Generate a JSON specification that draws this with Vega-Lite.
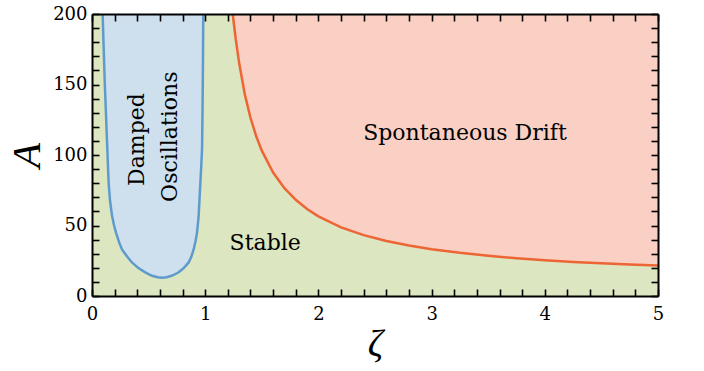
{
  "$schema": "https://vega.github.io/schema/vega-lite/v6.json",
  "width": 566,
  "height": 282,
  "autosize": {"type": "none"},
  "padding": {"left": 92, "top": 14, "right": 46, "bottom": 75},
  "config": {
    "view": {"stroke": null, "fill": "#dce6c1"},
    "axis": {
      "domainColor": "black", "domainWidth": 2, "tickColor": "black", "tickWidth": 1.6,
      "labelFont": "DejaVu Serif", "labelFontSize": 18, "labelColor": "black",
      "titleFont": "Liberation Serif", "titleFontStyle": "italic", "titleFontWeight": "normal",
      "titleColor": "black", "grid": false,
      "labelOverlap": false, "labelFlush": false
    }
  },
  "datasets": {
    "blue": [
      {"zeta": 0.094, "A": 200}, {"zeta": 0.103, "A": 176}, {"zeta": 0.112, "A": 153},
      {"zeta": 0.124, "A": 128}, {"zeta": 0.135, "A": 105}, {"zeta": 0.147, "A": 80},
      {"zeta": 0.16, "A": 67}, {"zeta": 0.177, "A": 57}, {"zeta": 0.195, "A": 50},
      {"zeta": 0.212, "A": 45}, {"zeta": 0.24, "A": 38}, {"zeta": 0.265, "A": 33},
      {"zeta": 0.31, "A": 28}, {"zeta": 0.353, "A": 23.8}, {"zeta": 0.41, "A": 19.8},
      {"zeta": 0.47, "A": 16.8}, {"zeta": 0.53, "A": 14.3}, {"zeta": 0.58, "A": 13.3},
      {"zeta": 0.618, "A": 13}, {"zeta": 0.66, "A": 13.3}, {"zeta": 0.71, "A": 14.5},
      {"zeta": 0.766, "A": 16.8}, {"zeta": 0.81, "A": 19.8}, {"zeta": 0.854, "A": 23.8},
      {"zeta": 0.878, "A": 28}, {"zeta": 0.898, "A": 33}, {"zeta": 0.915, "A": 39},
      {"zeta": 0.928, "A": 45}, {"zeta": 0.942, "A": 56.6}, {"zeta": 0.957, "A": 80},
      {"zeta": 0.965, "A": 92}, {"zeta": 0.972, "A": 104}, {"zeta": 0.976, "A": 128},
      {"zeta": 0.979, "A": 153}, {"zeta": 0.981, "A": 176}, {"zeta": 0.983, "A": 200}
    ],
    "red": [
      {"zeta": 1.243, "A": 200}, {"zeta": 1.27, "A": 182}, {"zeta": 1.3, "A": 165.2},
      {"zeta": 1.35, "A": 143}, {"zeta": 1.4, "A": 126.4}, {"zeta": 1.45, "A": 113.5},
      {"zeta": 1.5, "A": 103.1}, {"zeta": 1.6, "A": 87.6}, {"zeta": 1.7, "A": 76.5},
      {"zeta": 1.8, "A": 68.2}, {"zeta": 1.9, "A": 61.7}, {"zeta": 2.0, "A": 56.5},
      {"zeta": 2.2, "A": 48.7}, {"zeta": 2.4, "A": 43.2}, {"zeta": 2.6, "A": 39.0},
      {"zeta": 2.8, "A": 35.8}, {"zeta": 3.0, "A": 33.2}, {"zeta": 3.25, "A": 30.6},
      {"zeta": 3.5, "A": 28.5}, {"zeta": 3.75, "A": 26.8}, {"zeta": 4.0, "A": 25.4},
      {"zeta": 4.25, "A": 24.2}, {"zeta": 4.5, "A": 23.2}, {"zeta": 4.75, "A": 22.3},
      {"zeta": 5.0, "A": 21.55}
    ],
    "labels": [
      {"zeta": 0.40, "A": 111, "text": "Damped", "angle": 270},
      {"zeta": 0.69, "A": 113, "text": "Oscillations", "angle": 270},
      {"zeta": 1.53, "A": 37.6, "text": "Stable", "angle": 0},
      {"zeta": 3.295, "A": 115.6, "text": "Spontaneous Drift", "angle": 0}
    ]
  },
  "layer": [
    {
      "data": {"name": "red"},
      "mark": {"type": "area", "color": "#f9d0c3", "opacity": 1},
      "encoding": {
        "x": {"field": "zeta", "type": "quantitative", "scale": {"domain": [0, 5], "nice": false, "zero": false},
          "axis": {"orient": "bottom", "zindex": 2, "title": "ζ", "titlePadding": 2, "titleFontSize": 38, "format": ".0f",
            "values": [0,0.2,0.4,0.6,0.8,1,1.2,1.4,1.6,1.8,2,2.2,2.4,2.6,2.8,3,3.2,3.4,3.6,3.8,4,4.2,4.4,4.6,4.8,5],
            "labelExpr": "datum.value % 1 === 0 ? datum.label : ''",
            "tickSize": -7,
            "encode": {"ticks": {"update": {"y2": {"signal": "datum.value % 1 === 0 ? -7 : -4"}}}},
            "labelPadding": 16}},
        "y": {"field": "A", "type": "quantitative", "scale": {"domain": [0, 200], "nice": false, "zero": false},
          "axis": {"orient": "left", "zindex": 2, "title": "A", "titlePadding": 4, "titleFontSize": 41, "format": ".0f",
            "values": [0,10,20,30,40,50,60,70,80,90,100,110,120,130,140,150,160,170,180,190,200],
            "labelExpr": "datum.value % 50 === 0 ? datum.label : ''",
            "tickSize": -7,
            "encode": {"ticks": {"update": {"x2": {"signal": "datum.value % 50 === 0 ? 7 : 4"}}}},
            "labelPadding": 12}},
        "y2": {"datum": 200}
      }
    },
    {
      "data": {"name": "red"},
      "mark": {"type": "line", "color": "#ee6535", "strokeWidth": 2.5},
      "encoding": {
        "x": {"field": "zeta", "type": "quantitative",
          "axis": {"orient": "top", "zindex": 2, "title": null, "labels": false,
            "values": [0,0.2,0.4,0.6,0.8,1,1.2,1.4,1.6,1.8,2,2.2,2.4,2.6,2.8,3,3.2,3.4,3.6,3.8,4,4.2,4.4,4.6,4.8,5],
            "tickSize": -7,
            "encode": {"ticks": {"update": {"y2": {"signal": "datum.value % 1 === 0 ? 7 : 4"}}}}}},
        "y": {"field": "A", "type": "quantitative",
          "axis": {"orient": "right", "zindex": 2, "title": null, "labels": false,
            "values": [0,10,20,30,40,50,60,70,80,90,100,110,120,130,140,150,160,170,180,190,200],
            "tickSize": -7,
            "encode": {"ticks": {"update": {"x2": {"signal": "datum.value % 50 === 0 ? -7 : -4"}}}}}}
      }
    },
    {
      "data": {"name": "blue"},
      "mark": {"type": "area", "color": "#cee0ee", "opacity": 1},
      "encoding": {
        "x": {"field": "zeta", "type": "quantitative", "axis": null},
        "y": {"field": "A", "type": "quantitative", "axis": null},
        "y2": {"datum": 200}
      }
    },
    {
      "data": {"name": "blue"},
      "mark": {"type": "line", "color": "#5e9bcc", "strokeWidth": 2.5},
      "encoding": {
        "x": {"field": "zeta", "type": "quantitative", "axis": null},
        "y": {"field": "A", "type": "quantitative", "axis": null}
      }
    },
    {
      "data": {"name": "labels"},
      "mark": {"type": "text", "font": "DejaVu Serif", "fontSize": 22, "color": "black", "align": "center", "baseline": "middle"},
      "encoding": {
        "x": {"field": "zeta", "type": "quantitative", "axis": null},
        "y": {"field": "A", "type": "quantitative", "axis": null},
        "text": {"field": "text"},
        "angle": {"field": "angle", "type": "quantitative", "scale": null}
      }
    }
  ],
  "resolve": {"axis": {"x": "independent", "y": "independent"}}
}
